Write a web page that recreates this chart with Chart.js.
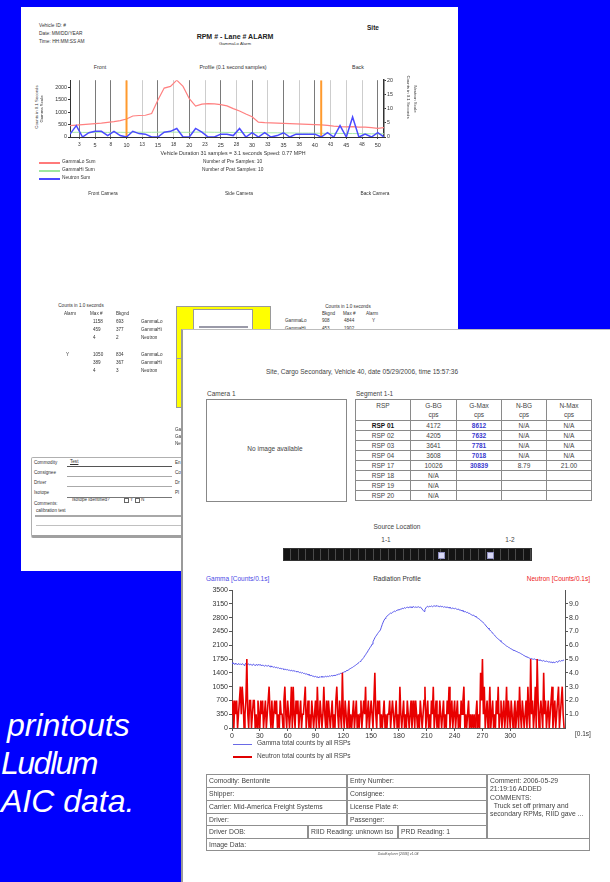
<!DOCTYPE html>
<html>
<head>
<meta charset="utf-8">
<script src="https://cdn.jsdelivr.net/npm/chart.js@4.4.0/dist/chart.umd.min.js"></script>
<style>
html,body{margin:0;padding:0}
body{width:610px;height:882px;overflow:hidden;background:#0000fe;position:relative;font-family:'Liberation Sans',Arial,sans-serif}
.t{position:absolute;white-space:nowrap;line-height:1;color:#333}
.box{position:absolute;box-sizing:border-box}
#sheet1{left:21px;top:7px;width:437px;height:564px;background:#fff;z-index:1}
#sheet2{left:181px;top:329px;width:429px;height:553px;background:#fff;z-index:5;border-left:2px solid #9a9a9a;border-top:1px solid #bdbdbd}
.slide{position:absolute;color:#fff;font-style:italic;font-size:32px;line-height:1;white-space:nowrap;z-index:1}
#rsp{position:absolute;left:355px;top:399px;z-index:6;border-collapse:collapse;table-layout:fixed;width:236px;font-size:6.5px;color:#444;text-align:center}
#rsp td{border:1px solid #8a8a8a;padding:0;line-height:9px;height:9px;overflow:hidden;white-space:nowrap}
#rsp tr.head td{height:19px;vertical-align:top;padding-top:1px}
#rsp td.gmax{color:#3a3ad0;font-weight:bold}
.cell{position:absolute;box-sizing:border-box;border:1px solid #8f8f8f;font-size:6.8px;color:#444;padding:2px 0 0 2px;line-height:8.3px;white-space:nowrap;overflow:hidden;z-index:6;background:#fff}
</style>
</head>
<body>
<div id="sheet1" class="box"></div>
<div id="sheet2" class="box"></div>

<div class="slide" style="left:7px;top:709px">printouts</div>
<div class="slide" style="left:1px;top:747px;letter-spacing:-1.5px">Ludlum</div>
<div class="slide" style="left:1px;top:785px">AIC data.</div>

<div style="position:absolute;left:40px;top:76px;width:390px;height:75px;z-index:2"><canvas id="alarmChart" width="390" height="75"></canvas></div>
<div style="position:absolute;left:200px;top:585px;width:395px;height:155px;z-index:6"><canvas id="profileChart" width="395" height="155"></canvas></div>

<script>
// ---- alarm profile (0.1 s samples) ----
const sampleNo = Array.from({length: 51}, (_, i) => i + 1);
const gammaLoSum = [460,480,500,520,540,560,590,620,660,730,850,870,880,950,1500,1980,2050,2300,2050,1550,
                    1250,1330,1350,1340,1310,1260,1150,1050,930,820,600,580,570,560,550,540,530,520,510,500,
                    490,470,440,420,410,420,400,400,380,350,380];
const gammaHiSum = [190,190,185,185,190,190,185,190,190,185,190,195,190,190,195,200,200,195,190,190,
                    195,200,195,190,190,185,185,180,180,175,175,170,170,170,165,165,160,160,160,155,
                    150,150,145,145,140,140,135,135,130,130,130];
const neutronSum = [1,4,0,1.5,2,2,0.5,2,0.5,0,2,1.2,1,0,0,1.7,2,3,0,0,
                    3,1.7,0,0,1,1,0.5,3,0,1.5,0,1.5,0,0.5,1.5,0,1,1,1,1,
                    0,1.5,0,4,0,7,0,1,0,1.5,0];
const profileTicks = [2.5,5,7.5,10,12.5,15,17.5,20,22.5,25,27.5,30,32.5,35,37.5,40,42.5,45,47.5,50];
const darkLines = [2.5,5,7.5,15,20,25,30,35,40,50];
const occupancyMarks = [10, 41];
const gammaScaleTicks = [0,500,1000,1500,2000];
const neutronScaleTicks = [0,5,10,15,20];

// ---- radiation profile (0.1 s) ----
const gammaTotal = [
1660,1630,1645,1610,1650,1625,1600,1640,1615,1630,
1605,1635,1620,1590,1625,1640,1600,1615,1630,1595,
1620,1605,1590,1625,1610,1580,1615,1600,1595,1620,
1590,1610,1575,1600,1590,1565,1595,1580,1570,1590,
1575,1555,1580,1550,1560,1540,1555,1530,1545,1520,
1535,1510,1520,1500,1515,1490,1505,1480,1495,1470,
1485,1465,1475,1450,1470,1445,1460,1440,1455,1430,
1445,1420,1430,1405,1415,1395,1410,1385,1390,1370,
1380,1360,1365,1340,1350,1325,1340,1310,1320,1295,
1315,1290,1305,1270,1300,1285,1310,1290,1305,1295,
1300,1315,1295,1320,1305,1325,1310,1335,1320,1330,
1335,1345,1330,1360,1350,1375,1365,1390,1385,1405,
1410,1430,1420,1450,1465,1460,1490,1500,1515,1530,
1540,1560,1575,1590,1610,1620,1650,1665,1690,1710,
1730,1760,1790,1830,1860,1900,1930,1975,2010,2050,
2080,2130,2190,2240,2290,2330,2360,2400,2430,2460,
2490,2560,2630,2690,2740,2780,2810,2840,2860,2880,
2900,2920,2910,2940,2950,2970,2955,2980,2990,3000,
3010,3000,3030,3020,3045,3030,3060,3040,3060,3070,
3050,3075,3060,3080,3055,3070,3085,3060,3075,3065,
3070,3080,3060,3075,3050,3020,2990,2960,3010,3050,
3080,3090,3070,3095,3085,3100,3080,3095,3105,3090,
3100,3110,3085,3095,3080,3100,3075,3090,3065,3080,
3070,3060,3080,3050,3065,3045,3055,3030,3050,3035,
3030,3040,3020,3010,3025,2995,3000,2980,2990,2965,
2960,2950,2955,2930,2940,2910,2915,2890,2880,2860,
2870,2850,2840,2820,2810,2790,2775,2760,2730,2715,
2700,2670,2650,2620,2590,2560,2540,2510,2490,2460,
2440,2410,2380,2360,2330,2300,2280,2260,2240,2220,
2200,2180,2150,2140,2120,2100,2080,2070,2050,2040,
2020,2010,1995,1980,1970,1965,1950,1940,1930,1915,
1910,1895,1880,1870,1850,1840,1825,1810,1805,1790,
1785,1770,1760,1765,1750,1745,1755,1740,1735,1745,
1730,1720,1735,1715,1710,1700,1715,1695,1690,1700,
1690,1675,1685,1665,1680,1660,1675,1670,1655,1680,
1690,1665,1700,1710,1690,1715,1700,1725,1720];
const neutronTotal = [
1,2,0,2,1,2,0,1,2,3,
1,3,2,0,1,2,5,1,0,2,
2,0,1,2,2,0,1,0,2,1,
0,2,1,2,0,1,2,0,1,2,
3,1,0,2,0,1,2,1,2,0,
1,0,2,1,1,0,2,3,1,0,
2,1,0,1,3,0,3,1,0,2,
1,2,0,1,2,0,1,1,2,3,
0,1,2,0,1,0,2,1,0,1,
2,0,3,1,0,2,1,0,1,3,
1,0,2,0,2,1,0,1,2,0,
1,0,2,3,1,0,2,1,0,4,
1,0,2,1,0,1,2,0,1,0,
1,2,0,1,2,0,1,0,1,2,
0,1,2,1,3,0,1,2,0,1,
2,1,0,2,4,1,0,2,1,2,
0,1,0,1,2,0,1,0,1,1,
2,0,1,2,1,0,1,2,0,1,
0,3,1,0,1,2,0,1,0,2,
1,0,1,2,0,1,2,0,2,1,
0,1,0,2,1,0,1,2,3,0,
1,2,0,1,0,2,1,3,0,1,
2,0,1,0,2,1,0,1,2,0,
1,0,2,1,3,0,1,2,0,1,
2,0,1,2,0,1,0,2,1,2,
3,0,1,0,1,2,0,1,0,1,
0,1,0,1,2,0,1,0,4,2,
5,1,3,0,1,2,0,1,3,0,
1,2,0,1,0,2,1,3,0,1,
2,0,1,2,0,1,3,0,2,1,
0,2,1,0,1,2,0,1,2,0,
3,1,0,2,1,0,1,2,0,3,
1,0,5,1,2,0,1,3,0,5,
2,0,1,2,1,0,4,1,2,0,
1,2,0,1,2,3,0,1,2,0,
1,2,3,0,1,2,3,1,0];
const timeTicks = [0,30,60,90,120,150,180,210,240,270,300];
const gammaTicks = [0,350,700,1050,1400,1750,2100,2450,2800,3150,3500];
const neutronTicks = [1,2,3,4,5,6,7,8,9];

// ---- RSP segment table ----
const rspNames = ['RSP 01','RSP 02','RSP 03','RSP 04','RSP 17','RSP 18','RSP 19','RSP 20'];
const gBg  = ['4172','4205','3641','3608','10026','N/A','N/A','N/A'];
const gMax = ['8612','7632','7781','7018','30839','','',''];
const nBg  = ['N/A','N/A','N/A','N/A','8.79','','',''];
const nMax = ['N/A','N/A','N/A','N/A','21.00','','',''];

// text helper: x,y = anchor point (y = vertical centre)
function put(x, y, s, o = {}) {
  const d = document.createElement('div');
  d.className = 't';
  d.textContent = s;
  const size = o.size || 5;
  d.style.fontSize = size + 'px';
  d.style.left = x + 'px';
  d.style.top = (y - size * 0.55) + 'px';
  let tf = '';
  if (o.align === 'c') tf = 'translateX(-50%)';
  if (o.align === 'r') tf = 'translateX(-100%)';
  if (o.rot) { d.style.top = y + 'px'; tf = 'translate(-50%,-50%) rotate(' + o.rot + 'deg)'; }
  d.style.transform = tf;
  if (o.bold) d.style.fontWeight = 'bold';
  if (o.italic) d.style.fontStyle = 'italic';
  if (o.color) d.style.color = o.color;
  if (o.under) d.style.textDecoration = 'underline';
  d.style.zIndex = o.z || 2;
  document.body.appendChild(d);
  return d;
}
function rect(x, y, w, h, css, z) {
  const d = document.createElement('div');
  d.className = 'box';
  d.style.cssText += `left:${x}px;top:${y}px;width:${w}px;height:${h}px;z-index:${z || 2};` + css;
  document.body.appendChild(d);
  return d;
}

// ---- first printout: header ----
put(39, 27, 'Vehicle ID:  #', {size: 4.8});
put(39, 35, 'Date:  MM/DD/YEAR', {size: 4.8});
put(39, 43, 'Time:  HH:MM:SS AM', {size: 4.8});
put(367, 29, 'Site', {size: 6.5, bold: true, color: '#222'});
put(235, 37, 'RPM # - Lane # ALARM', {size: 7, bold: true, align: 'c', color: '#222'});
put(235, 44, 'GammaLo Alarm', {size: 4.3, align: 'c'});
put(100, 68, 'Front', {size: 5.3, align: 'c'});
put(233, 68, 'Profile (0.1 second samples)', {size: 5.3, align: 'c'});
put(358, 68, 'Back', {size: 5.3, align: 'c'});
put(37, 107, 'Counts in 0.1 Seconds', {size: 4.3, rot: -90});
put(41.5, 109, 'Gamma Scale', {size: 4.3, rot: -90});
put(408, 97, 'Counts in 0.1 Seconds', {size: 4.3, rot: 90});
put(415, 99, 'Neutron Scale', {size: 4.3, rot: 90});
put(233, 154, 'Vehicle Duration 31 samples = 3.1 seconds   Speed: 0.77 MPH', {size: 5.3, align: 'c'});
rect(39, 162, 21, 1.5, 'background:#ff7a7a');
rect(39, 170, 21, 1.5, 'background:#9ee89e');
rect(39, 178, 21, 1.5, 'background:#4a4aff');
put(62, 163, 'GammaLo Sum', {size: 4.8});
put(62, 171, 'GammaHi Sum', {size: 4.8});
put(62, 179, 'Neutron Sum', {size: 4.8});
put(203, 163, 'Number of Pre Samples: 10', {size: 4.8});
put(202, 171, 'Number of Post Samples: 10', {size: 4.8});
put(103, 195, 'Front Camera', {size: 4.8, align: 'c'});
put(239, 195, 'Side Camera', {size: 4.8, align: 'c'});
put(375, 195, 'Back Camera', {size: 4.8, align: 'c'});

// counts blocks
put(81, 307, 'Counts in 1.0 seconds', {size: 4.6, align: 'c'});
put(64, 315, 'Alarm', {size: 4.6});
put(90, 315, 'Max #', {size: 4.6});
put(116, 315, 'Bkgnd', {size: 4.6});
const leftCounts = [[323,'','1158','693','GammaLo'],[331,'','459','377','GammaHi'],[339,'','4','2','Neutron'],
                    [356,'Y','1050','834','GammaLo'],[364,'','389','367','GammaHi'],[372,'','4','3','Neutron']];
leftCounts.forEach(r => { put(66, r[0], r[1], {size: 4.6}); put(93, r[0], r[2], {size: 4.6}); put(116, r[0], r[3], {size: 4.6}); put(141, r[0], r[4], {size: 4.6}); });
put(348, 308, 'Counts in 1.0 seconds', {size: 4.6, align: 'c'});
put(322, 315, 'Bkgnd', {size: 4.6});
put(343, 315, 'Max #', {size: 4.6});
put(366, 315, 'Alarm', {size: 4.6});
put(285, 322, 'GammaLo', {size: 4.6}); put(322, 322, '908', {size: 4.6}); put(344, 322, '4844', {size: 4.6}); put(372, 322, 'Y', {size: 4.6});
put(285, 330, 'GammaHi', {size: 4.6}); put(322, 330, '453', {size: 4.6}); put(344, 330, '1902', {size: 4.6});
put(175, 431, 'GammaLo', {size: 4.6}); put(175, 438, 'GammaHi', {size: 4.6}); put(175, 445, 'Neutron', {size: 4.6});

// yellow camera frame
rect(176, 306, 95, 102, 'background:#ffff00;border:1px solid #9a9a9a');
rect(193, 309, 60, 100, 'background:#fff;border:1px solid #9a9a9a');
rect(199, 326, 49, 2, 'background:#9a9aa8');
rect(176, 358, 17, 1, 'background:#9a9a9a');

// comment form
rect(31, 457, 190, 81, 'border:1px solid #b0b0b0;border-bottom:3px solid #a0a0a0;border-radius:2px;background:#fff');
put(34, 464, 'Commodity', {size: 4.6}); put(70, 463, 'Test', {size: 4.6, under: true});
rect(67, 466, 105, 1, 'background:#555', 3);
put(34, 474, 'Consignee', {size: 4.6}); rect(67, 476, 105, 1, 'background:#aaa', 3);
put(34, 484, 'Driver', {size: 4.6}); rect(67, 486, 105, 1, 'background:#aaa', 3);
put(34, 494, 'Isotope', {size: 4.6}); rect(67, 497, 105, 1, 'background:#777', 3);
put(72, 501, 'Isotope Identified?', {size: 4.6});
rect(124, 498, 5, 5, 'border:1px solid #666', 3); put(130, 501, 'Y', {size: 4.6});
rect(135, 498, 5, 5, 'border:1px solid #666', 3); put(141, 501, 'N', {size: 4.6});
put(34, 505, 'Comments:', {size: 4.6});
put(36, 512, 'calibration test', {size: 4.6});
rect(35, 514.5, 160, 2, 'background:#a8a8a8', 3);
rect(36, 525, 160, 1, 'background:#c0c0c0', 3);
put(175, 464, 'En', {size: 4.6}); put(175, 474, 'Co', {size: 4.6});
put(175, 484, 'Dr', {size: 4.6}); put(175, 494, 'Pl', {size: 4.6});

// ---- second printout ----
put(362, 373, 'Site, Cargo Secondary, Vehicle 40, date 05/29/2006, time 15:57:36', {size: 6.5, align: 'c', z: 6, color: '#444'});
put(207, 395, 'Camera 1', {size: 6.5, z: 6, color: '#444'});
put(356, 395, 'Segment  1-1', {size: 6.5, z: 6, color: '#444'});
rect(206, 399, 141, 103, 'border:1px solid #888', 6);
put(275, 450, 'No image available', {size: 6.5, align: 'c', z: 6, color: '#444'});

const tbl = document.createElement('table');
tbl.id = 'rsp';
let html = '<colgroup><col style="width:55px"><col style="width:46px"><col style="width:45px"><col style="width:45px"><col style="width:45px"></colgroup>';
html += '<tr class="head"><td>RSP</td><td>G-BG<br>cps</td><td>G-Max<br>cps</td><td>N-BG<br>cps</td><td>N-Max<br>cps</td></tr>';
rspNames.forEach((n, i) => {
  html += `<tr><td${i === 0 ? ' style="font-weight:bold;color:#111"' : ''}>${n}</td><td>${gBg[i]}</td><td class="gmax">${gMax[i]}</td><td>${nBg[i]}</td><td>${nMax[i]}</td></tr>`;
});
tbl.innerHTML = html;
document.body.appendChild(tbl);

put(397, 528, 'Source Location', {size: 6.5, align: 'c', z: 6, color: '#444'});
put(386, 541, '1-1', {size: 6.5, align: 'c', z: 6, color: '#444'});
put(510, 541, '1-2', {size: 6.5, align: 'c', z: 6, color: '#444'});
rect(283, 548, 249, 13, 'background:repeating-linear-gradient(90deg,#141414 0 6.5px,#4a4a4a 6.5px 7.5px);border:1px solid #333', 6);
rect(438, 551.5, 7, 7, 'background:#d8d8f4;border:1px solid #9090c0', 7);
rect(487, 551.5, 7, 7, 'background:#d8d8f4;border:1px solid #9090c0', 7);

put(206, 580, 'Gamma [Counts/0.1s]', {size: 6.5, z: 6, color: '#4a4ae6'});
put(397, 580, 'Radiation Profile', {size: 6.5, align: 'c', z: 6, color: '#333'});
put(590, 580, 'Neutron [Counts/0.1s]', {size: 6.5, align: 'r', z: 6, color: '#ee2222'});
put(575, 735, '[0.1s]', {size: 6.5, z: 6, color: '#333'});
rect(233, 744, 19, 1, 'background:#6a6ae6', 6);
put(257, 744, 'Gamma total counts by all RSPs', {size: 6.5, z: 6, color: '#444'});
rect(233, 756, 19, 2, 'background:#e00000', 6);
put(257, 757, 'Neutron total counts by all RSPs', {size: 6.5, z: 6, color: '#444'});

// vehicle information table
function cell(x1, y1, x2, y2, s) {
  const d = document.createElement('div');
  d.className = 'cell';
  d.style.left = x1 + 'px'; d.style.top = y1 + 'px';
  d.style.width = (x2 - x1) + 'px'; d.style.height = (y2 - y1) + 'px';
  d.innerHTML = s;
  document.body.appendChild(d);
}
const rowsY = [774, 787, 800, 812.5, 825, 838, 851];
const leftCol = ['Comodity: Bentonite', 'Shipper:', 'Carrier: Mid-America Freight Systems', 'Driver:'];
const midCol = ['Entry Number:', 'Consignee:', 'License Plate #:', 'Passenger:'];
leftCol.forEach((s, i) => { cell(206, rowsY[i], 347, rowsY[i + 1] + 1, s); cell(347, rowsY[i], 487, rowsY[i + 1] + 1, midCol[i]); });
cell(206, rowsY[4], 308, rowsY[5] + 1, 'Driver DOB:');
cell(308, rowsY[4], 398, rowsY[5] + 1, 'RIID Reading: unknown iso');
cell(398, rowsY[4], 487, rowsY[5] + 1, 'PRD Reading: 1');
cell(487, rowsY[0], 590, rowsY[5] + 1, 'Comment: 2006-05-29<br>21:19:16 ADDED<br>COMMENTS:<br>&nbsp; Truck set off primary and<br>secondary RPMs, RIID gave ...');
cell(206, rowsY[5], 590, rowsY[6], 'Image Data:');
put(398, 855, 'DataExplorer [2006] v1.04', {size: 3.5, align: 'c', italic: true, z: 6, color: '#555'});

// ---- charts ----
Chart.defaults.font.family = "'Liberation Sans', Arial, sans-serif";
const pts = (xs, ys) => ys.map((v, i) => ({x: xs[i], y: v}));
const asTicks = arr => s => { s.ticks = arr.map(v => ({value: v})); };
const plain = v => String(v);

new Chart(document.getElementById('alarmChart'), {
  type: 'line',
  data: {datasets: [
    {label: 'Neutron Sum', data: pts(sampleNo, neutronSum), borderColor: '#4a4aff', borderWidth: 1.5, pointRadius: 0, yAxisID: 'yN'},
    ...occupancyMarks.map(m => ({label: 'occupancy', data: [{x: m, y: 0}, {x: m, y: 2300}], borderColor: '#ff9a2e', borderWidth: 2, pointRadius: 0, yAxisID: 'yG'})),
    {label: 'GammaLo Sum', data: pts(sampleNo, gammaLoSum), borderColor: '#ff8080', borderWidth: 1.2, pointRadius: 0, yAxisID: 'yG'},
    {label: 'GammaHi Sum', data: pts(sampleNo, gammaHiSum), borderColor: '#a6e8a6', borderWidth: 1, pointRadius: 0, yAxisID: 'yG'}
  ]},
  options: {
    responsive: false, animation: false, events: [],
    plugins: {legend: {display: false}, tooltip: {enabled: false}},
    layout: {padding: {top: 3, left: 0, right: 0, bottom: 0}},
    scales: {
      x: {type: 'linear', min: 1, max: 51,
          afterBuildTicks: asTicks(profileTicks), afterFit: s => { s.height = 14; },
          ticks: {autoSkip: false, maxRotation: 0, padding: 3, color: '#333',
                  font: c => ({size: (c.tick && c.tick.value % 5 === 0) ? 5.5 : 4.8}),
                  callback: v => String(Math.round(v))},
          grid: {color: c => darkLines.includes(c.tick && c.tick.value) ? '#7a7a7a' : '#cdcdcd', lineWidth: 1, tickLength: 2, tickColor: '#555'},
          border: {color: '#333'}},
      yG: {position: 'left', min: 0, max: 2300,
           afterBuildTicks: asTicks(gammaScaleTicks), afterFit: s => { s.width = 30; },
           ticks: {padding: 1, color: '#333', font: {size: 5.3}, callback: plain},
           grid: {drawOnChartArea: false, tickLength: 2, color: '#333'},
           border: {color: '#333'}},
      yN: {position: 'right', min: 0, max: 20,
           afterBuildTicks: asTicks(neutronScaleTicks), afterFit: s => { s.width = 46; },
           ticks: {padding: 1, color: '#333', font: {size: 5.3}, callback: plain},
           grid: {drawOnChartArea: false, tickLength: 2, color: '#333'},
           border: {color: '#333', width: 1.5}}
    }
  }
});

const sampleIdx = gammaTotal.map((_, i) => i);
new Chart(document.getElementById('profileChart'), {
  type: 'line',
  data: {datasets: [
    {label: 'Neutron total counts by all RSPs', data: pts(sampleIdx, neutronTotal), borderColor: '#e80000', borderWidth: 1.6, pointRadius: 0, yAxisID: 'yN'},
    {label: 'Gamma total counts by all RSPs', data: pts(sampleIdx, gammaTotal), borderColor: '#5a5aeb', borderWidth: 1, pointRadius: 0, yAxisID: 'yG'}
  ]},
  options: {
    responsive: false, animation: false, events: [],
    plugins: {legend: {display: false}, tooltip: {enabled: false}},
    layout: {padding: {top: 5, left: 0, right: 0, bottom: 0}},
    scales: {
      x: {type: 'linear', min: 0, max: 359,
          afterBuildTicks: asTicks(timeTicks), afterFit: s => { s.height = 12; },
          ticks: {autoSkip: false, maxRotation: 0, padding: 1, color: '#333', font: {size: 7}, callback: plain},
          grid: {drawOnChartArea: false, tickLength: 3, color: '#555'},
          border: {color: '#555'}},
      yG: {position: 'left', min: 0, max: 3500,
           afterBuildTicks: asTicks(gammaTicks), afterFit: s => { s.width = 32; },
           ticks: {padding: 1, color: '#333', font: {size: 7}, callback: plain},
           grid: {drawOnChartArea: false, tickLength: 3, color: '#555'},
           border: {color: '#555'}},
      yN: {position: 'right', min: 0, max: 10,
           afterBuildTicks: asTicks(neutronTicks), afterFit: s => { s.width = 30; },
           ticks: {padding: 1, color: '#333', font: {size: 7}, callback: v => v.toFixed(1)},
           grid: {drawOnChartArea: false, tickLength: 3, color: '#555'},
           border: {color: '#555'}}
    }
  }
});
</script>
</body>
</html>
